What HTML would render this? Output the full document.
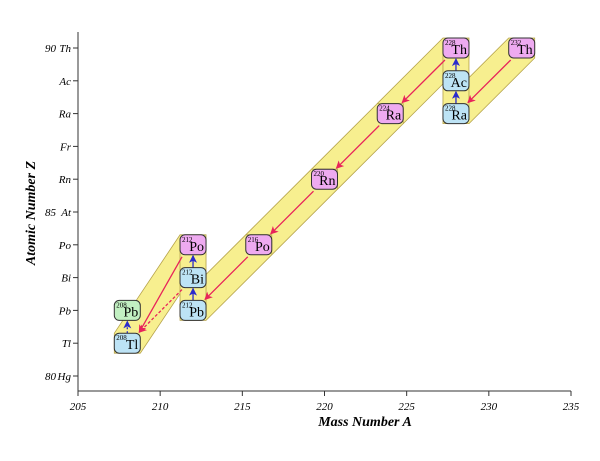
<!DOCTYPE html>
<html><head><meta charset="utf-8"><style>
body{margin:0;background:#fff}
svg{display:block;font-family:"Liberation Serif",serif}
</style></head><body>
<svg id="c" width="600" height="461"></svg>
<script>
const massNumbers=[232,228,228,228,224,220,216,212,212,212,208,208];
const atomicNumbers=[90,88,89,90,88,86,84,82,83,84,81,82];
const symbols=["Th","Ra","Ac","Th","Ra","Rn","Po","Pb","Bi","Po","Tl","Pb"];
const kinds=["a","b","b","a","a","a","a","b","b","a","b","s"];
const alphaFrom=[0,3,4,5,6,9,8];
const alphaTo=[1,4,5,6,7,10,10];
const alphaDashed=[0,0,0,0,0,0,1];
const betaFrom=[1,2,7,8,10];
const betaTo=[2,3,8,9,11];
const betaDashed=[0,0,0,0,1];
const xTicks=[205,210,215,220,225,230,235];
const zTicks=[80,81,82,83,84,85,86,87,88,89,90];
const zNames=["Hg","Tl","Pb","Bi","Po","At","Rn","Fr","Ra","Ac","Th"];

const svg=document.getElementById('c');const NS="http://www.w3.org/2000/svg";
const X=a=>78+(a-205)*(571-78)/30;
const Y=z=>376-(z-80)*(376-48)/10;
const W=26,H=20;
function el(t,at,p){const e=document.createElementNS(NS,t);for(const k in at)e.setAttribute(k,at[k]);(p||svg).appendChild(e);return e;}
const defs=el('defs',{});
function mk(id,col){const m=el('marker',{id:id,markerWidth:8,markerHeight:8,refX:7,refY:4,orient:'auto',markerUnits:'userSpaceOnUse'},defs);el('path',{d:'M0,0 L8,4 L0,8 L2,4 Z',fill:col},m);}
mk('ra','#e8245a');mk('ba','#2b2bcc');
// axes
const ax=el('path',{d:`M78,32 L78,391 L571,391`,fill:'none',stroke:'#333','stroke-width':1});

xTicks.forEach(v=>{const x=X(v);
 const t=el('line',{x1:x,y1:391,x2:x,y2:396,stroke:'#333'});
 const l=el('text',{x:x,y:410,'text-anchor':'middle','font-size':11,'font-style':'italic'});l.textContent=v;
 });
zTicks.forEach((z,i)=>{const y=Y(z);
 const t=el('line',{x1:73,y1:y,x2:78,y2:y,stroke:'#333'});
 const l=el('text',{x:71,y:y+4,'text-anchor':'end','font-size':11,'font-style':'italic'});l.textContent=zNames[i];
 
 if(z%5===0){const n=el('text',{x:56,y:y+4,'text-anchor':'end','font-size':11,'font-style':'italic'});n.textContent=z;
 }});
const xt=el('text',{x:365,y:426,'text-anchor':'middle','font-size':14,'font-style':'italic','font-weight':'bold'});xt.textContent='Mass Number A';

const yt=el('text',{x:0,y:0,'text-anchor':'middle','font-size':14,'font-style':'italic','font-weight':'bold',transform:'translate(35,213) rotate(-90)'});yt.textContent='Atomic Number Z';

// hull bands
function hull(i,j,vert){const a=[X(massNumbers[i]),Y(atomicNumbers[i])],b=[X(massNumbers[j]),Y(atomicNumbers[j])];
 let p;if(vert){p=[[a[0]-W/2,a[1]+H/2-4],[b[0]-W/2,b[1]-H/2+4],[b[0]+W/2,b[1]-H/2+4],[a[0]+W/2,a[1]+H/2-4]];}
 else{p=[[a[0]-W/2,a[1]-H/2],[a[0]+W/2,a[1]-H/2],[a[0]+W/2,a[1]+H/2],[b[0]+W/2,b[1]+H/2],[b[0]-W/2,b[1]+H/2],[b[0]-W/2,b[1]-H/2]];}
 const g=el('polygon',{points:p.map(q=>q.join(',')).join(' '),fill:'#f7ef8f',stroke:'#b5a24a','stroke-width':0.8});
 }
alphaFrom.forEach((f,k)=>{if(!alphaDashed[k])hull(f,alphaTo[k],false);});
betaFrom.forEach((f,k)=>{if(!betaDashed[k])hull(f,betaTo[k],true);});
// arrows
alphaFrom.forEach((f,k)=>{const t=alphaTo[k];
 const x1=X(massNumbers[f])-W/2+2,y1=Y(atomicNumbers[f])+H/2+2,x2=X(massNumbers[t])+W/2-1,y2=Y(atomicNumbers[t])-H/2-1;
 const a=el('line',{x1:x1,y1:y1,x2:x2,y2:y2,stroke:'#e8245a','stroke-width':1.3,'marker-end':'url(#ra)','stroke-dasharray':alphaDashed[k]?'3,2':'none'});
 });
betaFrom.forEach((f,k)=>{const t=betaTo[k];const x=X(massNumbers[f]);
 const a=el('line',{x1:x,y1:Y(atomicNumbers[f])-H/2,x2:x,y2:Y(atomicNumbers[t])+H/2+1,stroke:'#2b2bcc','stroke-width':1.3,'marker-end':'url(#ba)','stroke-dasharray':betaDashed[k]?'2,2':'none'});
 });
// nodes
const fills={a:'#eeaaf0',b:'#bde3f5',s:'#c2f0c2'};
massNumbers.forEach((m,i)=>{const x=X(m),y=Y(atomicNumbers[i]);
 const g=el('g',{});
 el('rect',{x:x-W/2,y:y-H/2,width:W,height:H,rx:5,fill:fills[kinds[i]],stroke:'#333','stroke-width':1},g);
 const s=el('text',{x:x-W/2+2,y:y-3,'font-size':7},g);s.textContent=m;
 const t=el('text',{x:x+W/2-2,y:y+6,'text-anchor':'end','font-size':14},g);t.textContent=symbols[i];});
</script>
</body></html>
